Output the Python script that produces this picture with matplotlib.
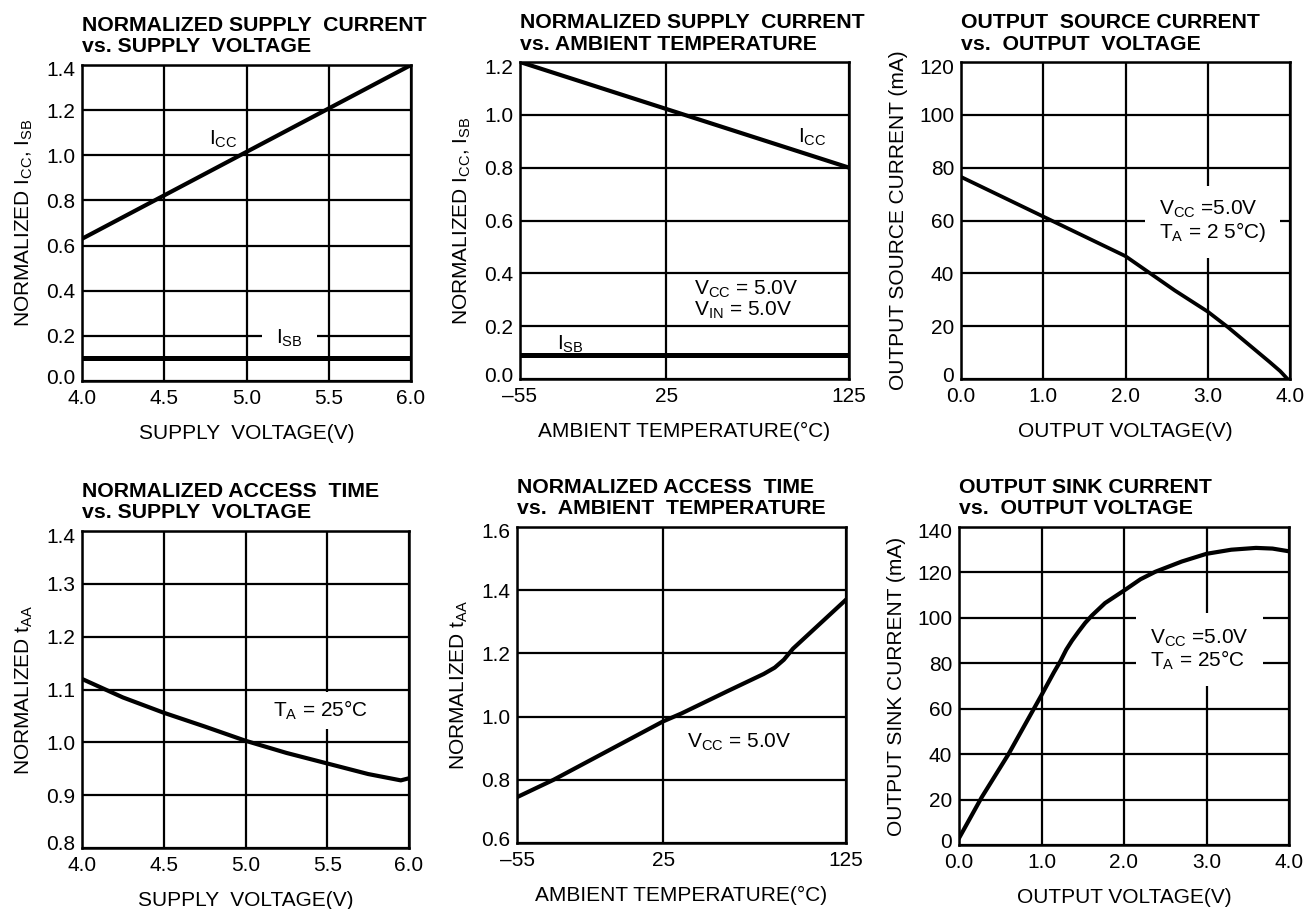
import numpy as np
import matplotlib
matplotlib.use('Agg')
import matplotlib.pyplot as plt
from matplotlib.transforms import ScaledTranslation

plt.rcParams['font.family'] = ['Liberation Sans', 'DejaVu Sans']
plt.rcParams['mathtext.fontset'] = 'custom'
plt.rcParams['mathtext.rm'] = 'Liberation Sans'
plt.rcParams['mathtext.it'] = 'Liberation Sans:italic'
plt.rcParams['mathtext.default'] = 'regular'

# Datos de las curvas (leidos de la hoja de datos)
# 1) corriente normalizada vs tension de alimentacion
vcc_supply = [4.0, 6.0]
icc_supply = [0.63, 1.40]
isb_supply = [0.10, 0.10]

# 2) corriente normalizada vs temperatura
temp_supply = [-55, 125]
icc_temp = [1.20, 0.80]
isb_temp = [0.09, 0.09]

# 3) corriente de fuente vs tension de salida
vout_source = [0.0, 1.0, 2.0, 2.3, 2.6, 3.0, 3.25, 3.5, 3.75, 3.88, 3.97]
i_source = [76.5, 61.5, 46.5, 40.0, 33.5, 25.5, 19.5, 13.0, 6.5, 3.0, 0.0]

# 4) tiempo de acceso vs tension de alimentacion
vcc_access = [4.0, 4.25, 4.5, 4.75, 5.0, 5.25, 5.5, 5.75, 5.95, 6.0]
taa_vcc = [1.12, 1.085, 1.056, 1.03, 1.003, 0.98, 0.96, 0.94, 0.928, 0.932]

# 5) tiempo de acceso vs temperatura
temp_access = [-55, -35, 25, 35, 60, 80, 86, 91, 96, 125]
taa_temp = [0.745, 0.80, 0.985, 1.01, 1.08, 1.135, 1.155, 1.18, 1.215, 1.37]

# 6) corriente de sumidero vs tension de salida
vout_sink = [0.0, 0.275, 0.6, 1.0, 1.15, 1.23, 1.3, 1.37, 1.45, 1.53, 1.61, 1.77, 2.02,
             2.2, 2.38, 2.7, 3.0, 3.3, 3.6, 3.8, 4.0]
i_sink = [3.0, 21.0, 40.0, 66.0, 76.0, 81.0, 86.0, 90.0, 94.0, 97.8, 101.0, 106.5, 112.5,
          117.0, 120.3, 124.8, 128.2, 130.0, 130.8, 130.5, 129.3]

# Ticks
volt_ticks = [4.0, 4.5, 5.0, 5.5, 6.0]
volt_labels = ['4.0', '4.5', '5.0', '5.5', '6.0']
temp_ticks = [-55, 25, 125]
temp_labels = ['\u201355', '25', '125']
out_ticks = [0, 1, 2, 3, 4]
out_labels = ['0.0', '1.0', '2.0', '3.0', '4.0']

W, H = 1312, 909
fig = plt.figure(figsize=(W / 100, H / 100), dpi=100)
FS = 15


def make_axes(left, right, top, bottom):
    return fig.add_axes([left / W, (H - bottom) / H, (right - left) / W, (bottom - top) / H])


def setup(ax, xlim, xticks, xlabels, ylim, yticks, ylabels, title, xlabel, ylabel):
    ax.set_xlim(xlim)
    ax.set_ylim(ylim)
    ax.set_xticks(xticks, xlabels)
    ax.set_yticks(yticks, ylabels)
    ax.tick_params(length=0, labelsize=FS, pad=5, colors='black')
    ax.tick_params(axis='x', pad=6)
    ax.grid(True, color='black', linewidth=1.6)
    ax.set_axisbelow(True)
    for s in ax.spines.values():
        s.set_linewidth(1.8)
    # etiquetas extremas del eje y un poco hacia dentro, como en el original
    labs = ax.get_yticklabels()
    labs[0].set_transform(labs[0].get_transform() + ScaledTranslation(0, 5 / 100, fig.dpi_scale_trans))
    labs[-1].set_transform(labs[-1].get_transform() + ScaledTranslation(0, -4 / 100, fig.dpi_scale_trans))
    ax.set_title(title, loc='left', fontsize=15.3, fontweight='bold', pad=9, linespacing=1.15)
    ax.set_xlabel(xlabel, fontsize=FS, labelpad=11)
    ax.set_ylabel(ylabel, fontsize=FS, labelpad=8)


lw = 3.0

# Panel 1
ax1 = make_axes(82, 411, 65, 381)
setup(ax1, (4.0, 6.0), volt_ticks, volt_labels, (0, 1.4), np.arange(0, 1.41, 0.2),
      ['0.0', '0.2', '0.4', '0.6', '0.8', '1.0', '1.2', '1.4'],
      'NORMALIZED SUPPLY  CURRENT\nvs. SUPPLY  VOLTAGE', 'SUPPLY  VOLTAGE(V)',
      r'NORMALIZED I$_{\mathrm{CC}}$, I$_{\mathrm{SB}}$')
ax1.plot(vcc_supply, icc_supply, color='black', lw=lw)
ax1.plot(vcc_supply, isb_supply, color='black', lw=lw + 0.6, zorder=6)
ax1.text(4.77, 1.07, r'I$_{\mathrm{CC}}$', fontsize=FS, va='center')
ax1.text(5.26, 0.19, r'I$_{\mathrm{SB}}$', fontsize=FS, va='center', ha='center', zorder=5,
         bbox=dict(facecolor='white', edgecolor='none', pad=10))

# Panel 2
ax2 = make_axes(520, 849, 62, 379)
setup(ax2, (-55, 125), temp_ticks, temp_labels, (0, 1.2), np.arange(0, 1.21, 0.2),
      ['0.0', '0.2', '0.4', '0.6', '0.8', '1.0', '1.2'],
      'NORMALIZED SUPPLY  CURRENT\nvs. AMBIENT TEMPERATURE', 'AMBIENT TEMPERATURE(\u00b0C)',
      r'NORMALIZED I$_{\mathrm{CC}}$, I$_{\mathrm{SB}}$')
ax2.plot(temp_supply, icc_temp, color='black', lw=lw)
ax2.plot(temp_supply, isb_temp, color='black', lw=lw + 0.6)
ax2.text(97, 0.915, r'I$_{\mathrm{CC}}$', fontsize=FS, va='center')
ax2.text(40, 0.30, 'V$_{\\mathrm{CC}}$ = 5.0V\nV$_{\\mathrm{IN}}$ = 5.0V', fontsize=FS,
         va='center', linespacing=1.0)
ax2.text(-35, 0.13, r'I$_{\mathrm{SB}}$', fontsize=FS, va='center')

# Panel 3
ax3 = make_axes(961, 1290, 62, 379)
setup(ax3, (0, 4), out_ticks, out_labels, (0, 120), np.arange(0, 121, 20),
      ['0', '20', '40', '60', '80', '100', '120'],
      'OUTPUT  SOURCE CURRENT\nvs.  OUTPUT  VOLTAGE', 'OUTPUT VOLTAGE(V)',
      'OUTPUT SOURCE CURRENT (mA)')
ax3.plot(vout_source, i_source, color='black', lw=lw - 0.3)
ax3.text(2.41, 59.5, 'V$_{\\mathrm{CC}}$ =5.0V\nT$_{\\mathrm{A}}$ = 2 5\u00b0C)', fontsize=FS,
         va='center', linespacing=1.0, zorder=5,
         bbox=dict(facecolor='white', edgecolor='none', pad=10))

# Panel 4
ax4 = make_axes(82, 409, 531, 848)
setup(ax4, (4.0, 6.0), volt_ticks, volt_labels, (0.8, 1.4), np.arange(0.8, 1.41, 0.1),
      ['0.8', '0.9', '1.0', '1.1', '1.2', '1.3', '1.4'],
      'NORMALIZED ACCESS  TIME\nvs. SUPPLY  VOLTAGE', 'SUPPLY  VOLTAGE(V)',
      r'NORMALIZED t$_{\mathrm{AA}}$')
ax4.plot(vcc_access, taa_vcc, color='black', lw=lw)
ax4.text(5.17, 1.06, 'T$_{\\mathrm{A}}$ = 25\u00b0C', fontsize=FS, va='center', zorder=5,
         bbox=dict(facecolor='white', edgecolor='none', pad=5))

# Panel 5
ax5 = make_axes(517, 846, 527, 843)
setup(ax5, (-55, 125), temp_ticks, temp_labels, (0.6, 1.6), np.arange(0.6, 1.61, 0.2),
      ['0.6', '0.8', '1.0', '1.2', '1.4', '1.6'],
      'NORMALIZED ACCESS  TIME\nvs.  AMBIENT  TEMPERATURE', 'AMBIENT TEMPERATURE(\u00b0C)',
      r'NORMALIZED t$_{\mathrm{AA}}$')
ax5.plot(temp_access, taa_temp, color='black', lw=lw)
ax5.text(38, 0.92, 'V$_{\\mathrm{CC}}$ = 5.0V', fontsize=FS, va='center')

# Panel 6
ax6 = make_axes(959, 1289, 527, 845)
setup(ax6, (0, 4), out_ticks, out_labels, (0, 140), np.arange(0, 141, 20),
      ['0', '20', '40', '60', '80', '100', '120', '140'],
      'OUTPUT SINK CURRENT\nvs.  OUTPUT VOLTAGE', 'OUTPUT VOLTAGE(V)',
      'OUTPUT SINK CURRENT (mA)')
ax6.plot(vout_sink, i_sink, color='black', lw=lw)
ax6.text(2.32, 86, 'V$_{\\mathrm{CC}}$ =5.0V\nT$_{\\mathrm{A}}$ = 25\u00b0C', fontsize=FS,
         va='center', linespacing=1.0, zorder=5,
         bbox=dict(facecolor='white', edgecolor='none', pad=10))

fig.savefig('out.png', dpi=100)
